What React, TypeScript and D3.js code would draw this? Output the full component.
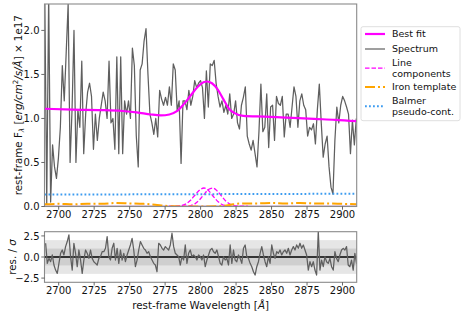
import React, { useEffect, useRef } from 'react';
import * as d3 from 'd3';

// observed spectrum, evenly sampled
const specStart = 2690.2;
const specStep = 1.372;
const specFlux = [
  2.4, 0.03, 2.4, 0.05, 0.7, 0.45, 0.32, 0.55, 0.9, 1.6, 1.2, 1.75, 2.3, 0.5, 1.1, 2.0, 0.5, 1.1, 0.9, 1.65,
  0.6, 1.05, 1.3, 1.4, 1.25, 0.65, 1.05, 0.75, 1.0, 1.15, 1.3, 1.2, 1.0, 1.65, 0.95, 1.0, 0.65, 1.7, 0.6, 1.7,
  0.6, 1.2,
  1.05, 1.2, 1.0, 1.8, 1.6, 0.8, 0.45, 1.55, 1.62, 1.88, 2.02, 1.5, 1.05, 0.95, 0.82, 1.0, 0.79, 1.32, 1.22, 1.15,
  1.24, 1.15, 1.36, 1.15, 1.62, 1.55, 1.09, 1.2, 0.49, 1.2, 1.2, 1.1, 1.32, 1.15, 1.25, 1.43, 1.35, 1.4, 1.43,
  1.35, 1.0, 1.54, 1.13, 1.62, 1.6, 1.66, 1.4, 1.25, 1.13, 1.2, 1.07, 1.15, 1.05, 1.28, 1.0, 1.05, 1.2, 0.95, 0.88,
  1.15, 1.24, 1.36, 0.8, 0.71, 0.64, 0.75, 0.6, 0.45, 0.85, 1.39, 0.85, 0.9, 1.28, 0.67, 1.13, 1.15, 0.75, 1.25, 1.17,
  1.15, 1.25, 0.79, 1.05, 1.05, 0.9, 1.13, 1.36, 1.25, 0.9, 1.2, 1.28, 1.15, 1.1, 0.8, 0.9, 0.87, 0.94, 0.71, 1.1,
  1.39, 0.95, 0.56, 0.71, 0.8, 0.45, 0.22, 0.14, 0.75, 1.13, 0.95, 1.15, 1.25, 1.2, 1.13, 1.05, 0.6, 0.98, 0.7, 1.0
];

// normalised residuals
const resStart = 2690.8;
const resStep = 1.1715;
const resValues = [
  1.63, -0.75, -0.16, -0.56, 0.24, -0.95, -1.55, -1.94, -0.75, 0.44, 0.83, 0.24, 1.23, 1.83, 2.62, 0.04, -1.55, 1.63, 0.44, -1.15,
  0.83, -0.36, -1.94, -0.36, 0.83, 0.44, -0.16, 0.83, -0.16, -0.56, -0.75, -0.95, -0.16, 0.04, 0.63, 0.63, 1.03, 2.42, 0.04, -0.36,
  1.03, 1.63, -0.36, 1.03, -0.75, 0.83, -0.36, 0.44, -0.56, 0.24, 0.83, 1.43, 2.22, 0.83, -1.15, -0.36, 0.83, 1.83, 1.43, 1.03,
  0.83, 0.44, 0.63, 0.04, -0.36, -0.75, -0.95, -1.75, 1.63, 1.43, 1.03, 0.83, 1.23, 1.03, 0.83, 1.43, 2.82, 1.23, 0.44, 0.24,
  0.04, -0.95, 0.04, -0.36, 1.43, -0.75, 0.44, 0.83, 0.04, 0.24, 0.04, -0.36, 0.24, 0.04,
  -0.36, 0.24, -1.15, -0.36, 0.24, 0.83, 1.03, 0.63, 0.44, 0.83, 0.04, -0.75, -0.95, 0.04, -0.36, -0.16, -0.95, 1.43, -0.75, 0.83,
  -0.36, -0.56, 0.24, -0.16, -0.75, 1.03, 1.43, 0.04, -0.16, -0.75, -1.15, -1.75, -2.14, -1.15, -0.56, 0.44, 1.23, 0.24, -0.56, -1.15,
  0.04, -0.75, 1.43, 0.44, -0.16, 0.63, 0.44, 0.83, 0.24, 0.63, 0.83, 0.44, 1.03, 0.24, 0.83, 1.23, 0.83, 1.43, 1.03, 1.63,
  1.03, 1.43, 0.83, 0.24, -1.55, -0.56, -1.15, -0.56, -1.55, -2.14, 3.1, -1.55, -0.36, -1.15, 0.04, -0.56, -0.75, -0.16, -1.15, -1.55,
  0.63, -0.16, -0.56, 0.24, 0.83, 1.03, 0.83, 1.23, -0.95, -1.15, -0.36, -1.55, 0.44, -0.75, 0.24
];

// best fit model
const fitWave = [2690, 2710, 2730, 2745, 2755, 2765, 2772, 2778, 2783, 2788, 2793, 2798, 2802, 2804.5, 2808, 2812, 2816, 2820, 2824, 2830, 2845, 2860, 2880, 2895, 2910];
const fitFlux = [1.11, 1.10, 1.095, 1.085, 1.07, 1.045, 1.035, 1.045, 1.08, 1.16, 1.26, 1.36, 1.41, 1.42, 1.40, 1.33, 1.22, 1.11, 1.06, 1.03, 1.02, 1.01, 0.995, 0.985, 0.97];

// line components
const lineWave = [2777.7, 2780.8, 2783.9, 2787.0, 2790.1, 2793.1, 2796.2, 2799.3, 2802.4, 2805.5, 2808.6, 2811.7, 2814.8, 2817.9, 2821.0, 2824.0, 2827.1, 2830.2, 2833.3];
const lineOne = [0, 0.001, 0.004, 0.012, 0.033, 0.074, 0.134, 0.188, 0.21, 0.182, 0.122, 0.064, 0.026, 0.008, 0.002, 0, 0, 0, 0];
const lineTwo = [0, 0, 0, 0.001, 0.003, 0.011, 0.033, 0.077, 0.138, 0.193, 0.209, 0.177, 0.117, 0.06, 0.024, 0.007, 0.002, 0, 0];

// iron template
const ironWave = [2690, 2700, 2710, 2720, 2730, 2740, 2750, 2760, 2768, 2775, 2780, 2790, 2800, 2810, 2817, 2823, 2830, 2840, 2850, 2860, 2870, 2880, 2890, 2900, 2910];
const ironFlux = [0.025, 0.03, 0.025, 0.03, 0.03, 0.04, 0.035, 0.03, 0.02, 0.008, 0.003, 0.001, 0.001, 0.002, 0.008, 0.025, 0.035, 0.035, 0.04, 0.035, 0.04, 0.035, 0.035, 0.03, 0.025];

// balmer pseudo-continuum
const balmerWave = [2690, 2910];
const balmerFlux = [0.135, 0.145];

// power-law / host level
const baseWave = [2690, 2910];
const baseFlux = [0, 0];

const xTicks = [2700, 2725, 2750, 2775, 2800, 2825, 2850, 2875, 2900];
const yTicks = [0, 0.5, 1.0, 1.5, 2.0];
const resTicks = [-2.5, 0, 2.5];

const legendLabels = [['Best fit'], ['Spectrum'], ['Line', 'components'], ['Iron template'], ['Balmer', 'pseudo-cont.']];
const legendColors = ['#ff00ff', '#5f5f5f', '#ff00ff', '#ffa500', '#3d9cf0'];
const legendDash = ['none', 'none', '4.5,2', '10,3,2,3', '1.8,2.2'];
const legendWidth = [2.2, 1.2, 1.3, 2, 2];

const FONT = 'DejaVu Sans, sans-serif';
const FS = 10;
const LABEL_FS = 10.3;
const LEGEND_FS = 9.5;

const App: React.FC = () => {
  const ref = useRef<SVGSVGElement>(null);

  useEffect(() => {
    if (!ref.current) return;
    const svg = d3.select(ref.current);
    svg.selectAll('*').remove();

    const left = 44.5, right = 356.7;
    const top = 4, bottom = 206.5;
    const rTop = 231.7, rBottom = 282.3;

    const x = d3.scaleLinear().domain([2690, 2910]).range([left, right]);
    const y = d3.scaleLinear().domain([0, 2.3]).range([bottom, top]);
    const yr = d3.scaleLinear().domain([-3, 3]).range([rBottom, rTop]);

    const defs = svg.append('defs');
    defs.append('clipPath').attr('id', 'clipMain')
      .append('rect').attr('x', left).attr('y', top).attr('width', right - left).attr('height', bottom - top);
    defs.append('clipPath').attr('id', 'clipRes')
      .append('rect').attr('x', left).attr('y', rTop).attr('width', right - left).attr('height', rBottom - rTop);

    svg.append('rect').attr('width', 464).attr('height', 315).attr('fill', 'white');

    const main = svg.append('g').attr('clip-path', 'url(#clipMain)');

    const pts = (w: number[], f: number[]) => w.map((d, i) => [d, f[i]] as [number, number]);
    const line = d3.line<[number, number]>().x(d => x(d[0])).y(d => y(d[1]));
    const smooth = d3.line<[number, number]>().x(d => x(d[0])).y(d => y(d[1])).curve(d3.curveMonotoneX);

    const specPts = specFlux.map((v, i) => [specStart + i * specStep, v] as [number, number]);

    main.append('path').datum(pts(baseWave, baseFlux))
      .attr('d', line).attr('fill', 'none').attr('stroke', '#6a1b7a').attr('stroke-width', 1.6);

    main.append('path').datum(specPts)
      .attr('d', line).attr('fill', 'none').attr('stroke', '#5f5f5f').attr('stroke-width', 1.25)
      .attr('stroke-linejoin', 'round');

    [lineOne, lineTwo].forEach(comp => {
      main.append('path').datum(pts(lineWave, comp))
        .attr('d', smooth).attr('fill', 'none').attr('stroke', '#ff00ff')
        .attr('stroke-width', 1.3).attr('stroke-dasharray', '4.5,2');
    });

    main.append('path').datum(pts(ironWave, ironFlux))
      .attr('d', smooth).attr('fill', 'none').attr('stroke', '#ffa500')
      .attr('stroke-width', 2).attr('stroke-dasharray', '10,3,2,3');

    main.append('path').datum(pts(balmerWave, balmerFlux))
      .attr('d', line).attr('fill', 'none').attr('stroke', '#3d9cf0')
      .attr('stroke-width', 2).attr('stroke-dasharray', '1.8,2.2');

    main.append('path').datum(pts(fitWave, fitFlux))
      .attr('d', smooth).attr('fill', 'none').attr('stroke', '#ff00ff').attr('stroke-width', 2.2);

    // residual panel
    const res = svg.append('g').attr('clip-path', 'url(#clipRes)');
    res.append('rect').attr('x', left).attr('width', right - left)
      .attr('y', yr(2)).attr('height', yr(-2) - yr(2)).attr('fill', '#e6e6e6');
    res.append('rect').attr('x', left).attr('width', right - left)
      .attr('y', yr(1)).attr('height', yr(-1) - yr(1)).attr('fill', '#cfcfcf');
    res.append('line').attr('x1', left).attr('x2', right).attr('y1', yr(0)).attr('y2', yr(0))
      .attr('stroke', 'black').attr('stroke-width', 1.3);
    const resLine = d3.line<[number, number]>().x(d => x(d[0])).y(d => yr(d[1]));
    res.append('path').datum(resValues.map((v, i) => [resStart + i * resStep, v] as [number, number]))
      .attr('d', resLine).attr('fill', 'none').attr('stroke', '#5f5f5f').attr('stroke-width', 1.25)
      .attr('stroke-linejoin', 'round');

    // frames
    [[top, bottom], [rTop, rBottom]].forEach(([t, b]) => {
      svg.append('rect').attr('x', left).attr('y', t).attr('width', right - left).attr('height', b - t)
        .attr('fill', 'none').attr('stroke', '#8a8a8a').attr('stroke-width', 1.1);
    });

    // ticks
    const text = (g: any) => g.attr('font-family', FONT).attr('font-size', FS).attr('fill', '#111');
    [[bottom, 218], [rBottom, 294.3]].forEach(([b, base]) => {
      xTicks.forEach(t => {
        svg.append('line').attr('x1', x(t)).attr('x2', x(t)).attr('y1', b).attr('y2', b + 3.2)
          .attr('stroke', '#444').attr('stroke-width', 0.8);
        svg.append('text').call(text).attr('x', x(t)).attr('y', base)
          .attr('text-anchor', 'middle').text(String(t));
      });
    });
    yTicks.forEach(t => {
      svg.append('line').attr('x1', left - 3.2).attr('x2', left).attr('y1', y(t)).attr('y2', y(t))
        .attr('stroke', '#444').attr('stroke-width', 0.8);
      svg.append('text').call(text).attr('x', 39.5).attr('y', y(t) + 3.6)
        .attr('text-anchor', 'end').text(t.toFixed(1));
    });
    resTicks.forEach(t => {
      svg.append('line').attr('x1', left - 3.2).attr('x2', left).attr('y1', yr(t)).attr('y2', yr(t))
        .attr('stroke', '#444').attr('stroke-width', 0.8);
      svg.append('text').call(text).attr('x', 39.5).attr('y', yr(t) + 3.6)
        .attr('text-anchor', 'end').text(t.toFixed(1).replace('-', '\u2212'));
    });

    // axis labels
    const xl = svg.append('text').call(text).attr('font-size', LABEL_FS)
      .attr('x', (left + right) / 2).attr('y', 308.8).attr('text-anchor', 'middle');
    xl.append('tspan').text('rest-frame Wavelength [');
    xl.append('tspan').attr('font-style', 'italic').text('Å');
    xl.append('tspan').text(']');

    const yl = svg.append('text').call(text).attr('font-size', LABEL_FS)
      .attr('transform', `translate(22,${(top + bottom) / 2}) rotate(-90)`)
      .attr('text-anchor', 'middle');
    yl.append('tspan').text('rest-frame F');
    yl.append('tspan').attr('font-size', LABEL_FS * 0.7).attr('dy', 2).attr('font-style', 'italic').text('λ');
    yl.append('tspan').attr('dy', -2).text(' [');
    yl.append('tspan').attr('font-style', 'italic').text('erg/cm');
    yl.append('tspan').attr('font-size', LABEL_FS * 0.7).attr('dy', -3.8).text('2');
    yl.append('tspan').attr('dy', 3.8).attr('font-style', 'italic').text('/s/Å');
    yl.append('tspan').text('] × 1e17');

    const rl = svg.append('text').call(text).attr('font-size', LABEL_FS)
      .attr('transform', `translate(15.8,${(rTop + rBottom) / 2}) rotate(-90)`)
      .attr('text-anchor', 'middle');
    rl.append('tspan').text('res. / ');
    rl.append('tspan').attr('font-style', 'italic').text('σ');

    // legend
    const lg = svg.append('g');
    lg.append('rect').attr('x', 361).attr('y', 26.7).attr('width', 99).attr('height', 94)
      .attr('rx', 2).attr('fill', 'white').attr('stroke', '#d6d6d6').attr('stroke-width', 0.8);
    const rowY = [34, 49, 63, 87, 101];
    legendLabels.forEach((lab, i) => {
      const hy = lab.length > 1 ? rowY[i] + 5.2 : rowY[i];
      lg.append('line').attr('x1', 365).attr('x2', 385).attr('y1', hy).attr('y2', hy)
        .attr('stroke', legendColors[i]).attr('stroke-width', legendWidth[i])
        .attr('stroke-dasharray', legendDash[i]);
      lab.forEach((s, j) => {
        lg.append('text').call(text).attr('font-size', LEGEND_FS)
          .attr('x', 392).attr('y', rowY[i] + 3.4 + j * 10.6).text(s);
      });
    });
  }, []);

  return (
    <svg ref={ref} width={464} height={315}
      style={{ position: 'absolute', left: 0, top: 0, display: 'block' }} />
  );
};

export default App;
